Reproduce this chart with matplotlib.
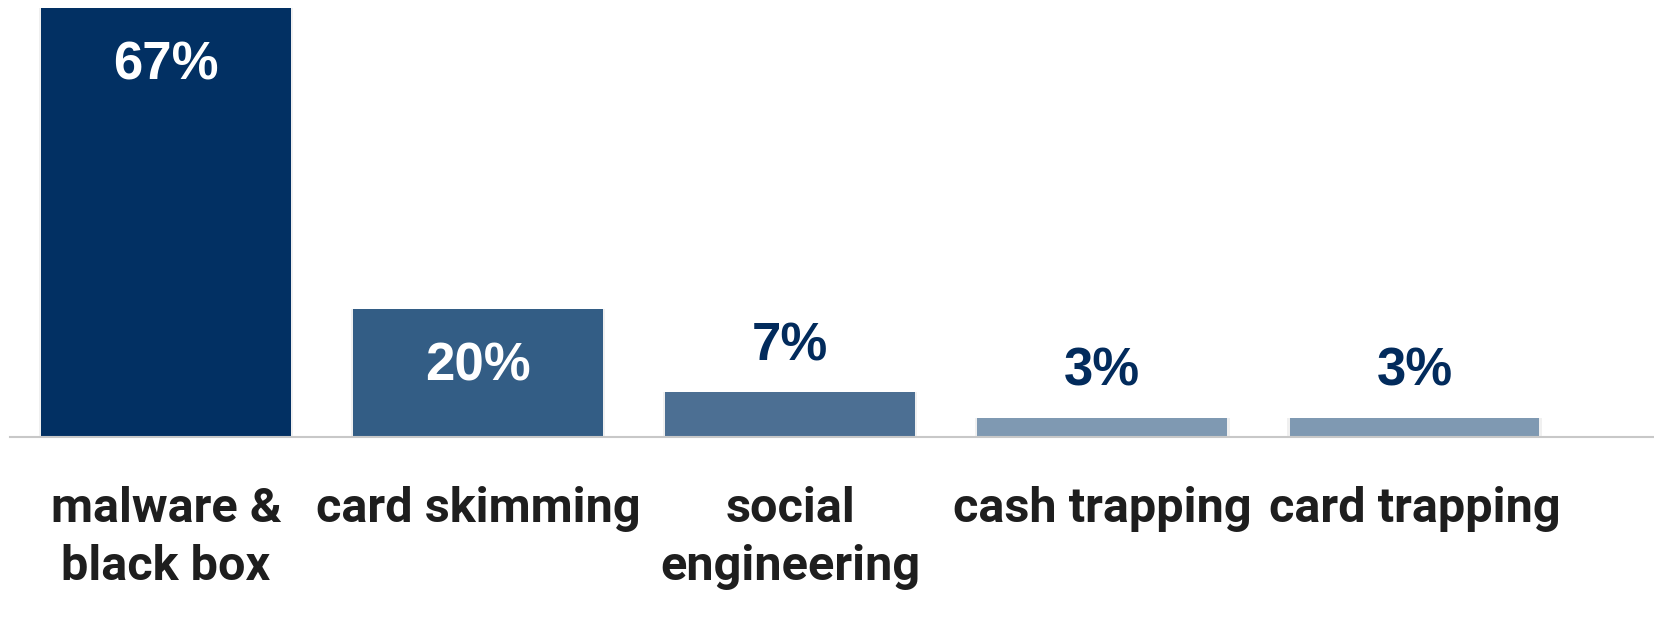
import matplotlib.pyplot as plt

categories = ['malware &\nblack box', 'card skimming', 'social\nengineering',
              'cash trapping', 'card trapping']
values = [67, 20, 7, 3, 3]
labels = ['67%', '20%', '7%', '3%', '3%']

bar_colors = ['#023063', '#335d85', '#4c6f93', '#7f99b2', '#7f99b2']
label_inside = [True, True, False, False, False]
NAVY = '#022b5c'

fig = plt.figure(figsize=(16.54, 6.19), dpi=100)
ax = fig.add_axes([10 / 1654, 1 - 437 / 619, 1 - 10 / 1654, 437 / 619])

x = range(len(values))
# faint shadow behind each bar, then the bar itself
ax.bar(x, values, width=0.815, color='#000000', alpha=0.06, zorder=1)
ax.bar(x, values, width=0.8, color=bar_colors, zorder=2)
ax.set_xlim(-0.5, (1654 - 166.5) / 312)
ax.set_ylim(0, 437 / 6.40)

for i, (v, lab) in enumerate(zip(values, labels)):
    if label_inside[i]:
        ax.text(i, v - 9.0, lab, ha='center', va='center', color='white',
                fontsize=38, fontweight='bold', family='Liberation Sans',
                zorder=3)
    else:
        ax.text(i, v + 7.2, lab, ha='center', va='center', color=NAVY,
                fontsize=38, fontweight='bold', family='Liberation Sans',
                zorder=3)

for s in ['top', 'right', 'left']:
    ax.spines[s].set_visible(False)
ax.spines['bottom'].set_color('#c8c8c8')
ax.spines['bottom'].set_linewidth(1.5)
ax.set_yticks([])
ax.set_xticks(list(x))
ax.set_xticklabels(categories, fontsize=35, fontweight='bold',
                   family=['Roboto', 'Liberation Sans'], color='#1e1e1e',
                   linespacing=1.34)
ax.tick_params(axis='x', length=0, pad=35)

fig.savefig('out.png', dpi=100)
